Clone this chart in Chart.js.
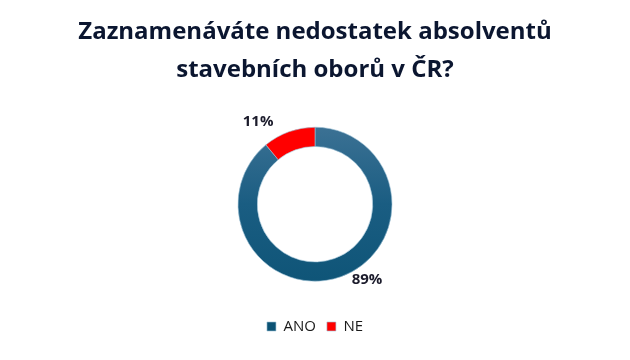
<!DOCTYPE html>
<html>
<head>
<meta charset="utf-8">
<script src="https://cdn.jsdelivr.net/npm/chart.js@4"></script>
<style>
  html, body { margin: 0; padding: 0; background: #fff; }
  #wrap { width: 630px; height: 360px; }
</style>
</head>
<body>
<div id="wrap"><canvas id="pie"></canvas></div>
<script>
// data
const categories = ['ANO', 'NE'];
const shares = [89, 11];
const labelText = ['89%', '11%'];
const titleLines = ['Zaznamenáváte nedostatek absolventů', 'stavebních oborů v ČR?'];

// slice fills, blue one gets a top-to-bottom gradient
function sliceFill(context) {
    if (context.dataIndex === 1) return '#ff0000';
    const chart = context.chart;
    const area = chart.chartArea;
    if (!area) return '#1a5c80';
    const g = chart.ctx.createLinearGradient(0, area.top, 0, area.bottom);
    g.addColorStop(0, '#47789a');
    g.addColorStop(0.5, '#1a5d82');
    g.addColorStop(1, '#0b5274');
    return g;
}

// percent labels outside the ring
const outerLabels = {
    id: 'outerLabels',
    afterDatasetsDraw(chart, args, opts) {
        const ctx = chart.ctx;
        const arcs = chart.getDatasetMeta(0).data;
        ctx.save();
        ctx.font = 'bold 15px "Open Sans", sans-serif';
        ctx.fillStyle = '#1b1b2b';
        ctx.textAlign = 'center';
        ctx.textBaseline = 'middle';
        arcs.forEach((arc, i) => {
            const mid = (arc.startAngle + arc.endAngle) / 2 + opts.shift[i];
            const r = arc.outerRadius + opts.gap[i];
            ctx.fillText(labelText[i], arc.x + Math.cos(mid) * r, arc.y + Math.sin(mid) * r);
        });
        ctx.restore();
    }
};

new Chart(document.getElementById('pie'), {
    type: 'doughnut',
    data: {
        labels: categories,
        datasets: [{
            data: shares,
            backgroundColor: sliceFill,
            borderColor: '#9fc3d6',
            borderWidth: 0.6
        }]
    },
    options: {
        responsive: true,
        maintainAspectRatio: false,
        animation: false,
        cutout: '75%',
        radius: 77,
        layout: { padding: { top: 0, bottom: 16 } },
        plugins: {
            title: {
                display: true,
                text: titleLines,
                color: '#0b1630',
                font: { family: '"Open Sans", sans-serif', size: 24, weight: 'bold', lineHeight: 1.55 },
                padding: { top: 14, bottom: 12 }
            },
            legend: {
                position: 'bottom',
                labels: {
                    boxWidth: 9,
                    boxHeight: 9,
                    padding: 11,
                    color: '#1a1a1a',
                    font: { family: '"Open Sans", sans-serif', size: 15 }
                }
            },
            tooltip: { enabled: false },
            outerLabels: { shift: [-0.255, -0.26], gap: [15, 23] }
        }
    },
    plugins: [outerLabels]
});
</script>
</body>
</html>
